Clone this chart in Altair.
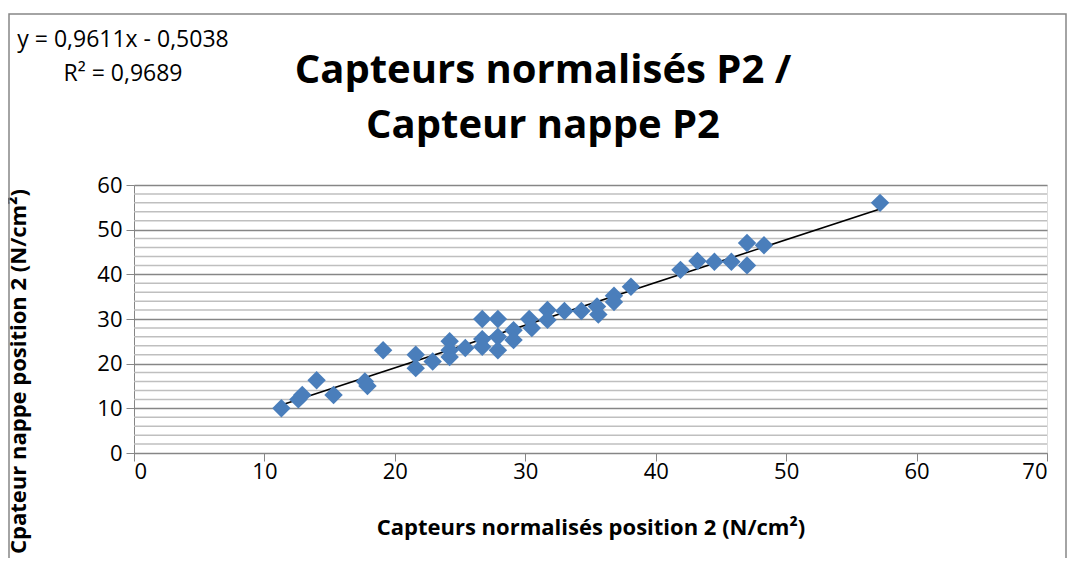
import altair as alt
import pandas as pd

x_vals = [11.3, 12.6, 12.9, 14.0, 15.3, 17.7, 17.9, 19.1, 21.6, 21.6, 22.9, 24.2, 24.2, 24.2,
          25.4, 26.7, 26.7, 26.7, 27.9, 27.9, 27.9, 29.1, 29.1, 30.3, 30.5, 31.7, 31.7, 33.0,
          34.3, 35.5, 35.6, 36.8, 36.8, 38.1, 41.9, 43.2, 44.5, 45.8, 47.0, 47.0, 48.3, 57.2]
y_vals = [10.0, 12.0, 13.0, 16.3, 13.0, 16.0, 15.0, 23.0, 22.0, 19.0, 20.5, 25.0, 23.0, 21.5,
          23.5, 30.0, 25.5, 23.8, 30.0, 26.0, 23.0, 27.5, 25.3, 30.0, 28.0, 32.0, 29.8, 31.8,
          31.8, 32.8, 31.0, 35.2, 33.8, 37.2, 41.0, 43.0, 42.8, 42.8, 47.0, 42.0, 46.5, 56.0]
major_ticks = [0, 10, 20, 30, 40, 50, 60]
x_ticks = [0, 10, 20, 30, 40, 50, 60, 70]
minor_grid = [v for v in range(2, 60, 2) if v % 10 != 0]

title_lines = ["Capteurs normalisés P2 /", "Capteur nappe P2"]
equation_lines = ["y = 0,9611x - 0,5038", "R² = 0,9689"]
x_title = "Capteurs normalisés position 2 (N/cm²)"
y_title = "Cpateur nappe position 2 (N/cm²)"

FONT = "Open Sans"
GRAY = "#868686"

df = pd.DataFrame({"x": x_vals, "y": y_vals})

xs = alt.Scale(domain=[0, 70], nice=False, zero=True)
ys = alt.Scale(domain=[0, 60], nice=False, zero=True)

x_axis = alt.Axis(values=x_ticks, title=x_title, grid=False, domainColor=GRAY, tickColor=GRAY,
                  tickSize=8, labelFontSize=22, labelFont=FONT, labelColor="#000000",
                  labelPadding=0, titleFont=FONT, titleFontSize=22, titleFontWeight="bold",
                  titleColor="#000000", titlePadding=35)
y_axis = alt.Axis(values=major_ticks, title=y_title, grid=True, gridColor=GRAY, gridWidth=1.5,
                  domainColor=GRAY, tickColor=GRAY, tickSize=8, labelFontSize=22,
                  labelFont=FONT, labelColor="#000000", labelPadding=4,
                  titleFont=FONT, titleFontSize=22, titleFontWeight="bold",
                  titleColor="#000000", titleX=-104, titleY=186)

minor = alt.Chart(pd.DataFrame({"g": minor_grid})).mark_rule(
    color="#bfbfbf", strokeWidth=1.5
).encode(y=alt.Y("g:Q", scale=ys, axis=y_axis))

points = alt.Chart(df).mark_point(
    shape="diamond", filled=True, size=340, color="#4a7ebb", opacity=1
).encode(
    x=alt.X("x:Q", scale=xs, axis=x_axis),
    y=alt.Y("y:Q", scale=ys, axis=y_axis),
)

trend = alt.Chart(df).transform_regression("x", "y").mark_line(
    color="#000000", strokeWidth=1.6
).encode(x=alt.X("x:Q", scale=xs), y=alt.Y("y:Q", scale=ys))


def label(text, x, y, size, weight="normal"):
    return alt.Chart(pd.DataFrame({"t": [text]})).mark_text(
        font=FONT, fontSize=size, fontWeight=weight, color="#000000",
        align="center", baseline="alphabetic"
    ).encode(text="t:N", x=alt.value(x), y=alt.value(y))


eq1 = label(equation_lines[0], -11, -138, 23)
eq2 = label(equation_lines[1], -11, -104, 23)
t1 = label(title_lines[0], 409, -102, 40, "bold")
t2 = label(title_lines[1], 409, -47, 40, "bold")

frame = alt.Chart(pd.DataFrame({"a": [0]})).mark_rect(
    fill=None, stroke=GRAY, strokeWidth=1.5
).encode(x=alt.value(-125), x2=alt.value(932), y=alt.value(-171), y2=alt.value(420))

chart = alt.layer(frame, minor, trend, points, eq1, eq2, t1, t2).properties(
    width=913,
    height=268,
    autosize=alt.AutoSizeParams(type="none"),
    padding={"left": 126, "top": 177, "right": 20, "bottom": 105},
).configure_view(stroke=None).configure(background="white")

chart.save("out.html", embed_options={"renderer": "svg", "actions": False})
